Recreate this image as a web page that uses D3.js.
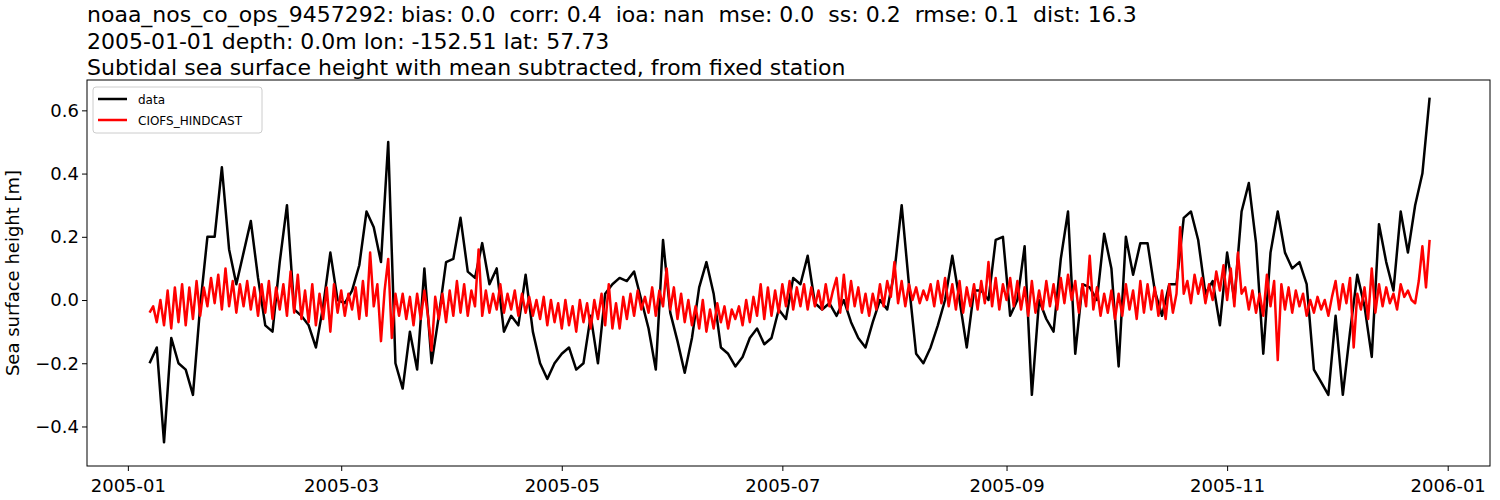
<!DOCTYPE html>
<html>
<head>
<meta charset="utf-8">
<script src="https://cdn.jsdelivr.net/npm/d3@7"></script>
<style>
  body { margin: 0; background: #fff; }
  text { font-family: "DejaVu Sans", sans-serif; white-space: pre; }
</style>
</head>
<body>
<svg id="chart" width="1500" height="500"></svg>
<script>
// station data, every 2 days starting 2005-01-07 (day 6)
const dataStartDay = 6;
const dataValues = [
  -0.20, -0.15, -0.45, -0.12, -0.20, -0.22, -0.30, -0.02, 0.20, 0.20,
  0.42, 0.16, 0.05, 0.15, 0.25, 0.07, -0.08, -0.10, 0.12, 0.30,
  -0.03, -0.05, -0.08, -0.15, -0.02, 0.15, 0.00, -0.01, 0.03, 0.11,
  0.28, 0.23, 0.12, 0.50, -0.20, -0.28, -0.10, -0.22, 0.10, -0.20,
  -0.05, 0.12, 0.13, 0.26, 0.09, 0.07, 0.18, 0.05, 0.10, -0.10,
  -0.05, -0.08, 0.08, -0.10, -0.20, -0.25, -0.20, -0.17, -0.15, -0.22,
  -0.20, -0.05, -0.20, 0.02, 0.05, 0.07, 0.06, 0.09, 0.00, -0.09,
  -0.22, 0.19, -0.04, -0.13, -0.23, -0.12, 0.04, 0.12, 0.02, -0.15,
  -0.17, -0.21, -0.18, -0.12, -0.09, -0.14, -0.12, -0.03, -0.06, 0.07,
  0.05, 0.14, -0.01, -0.03, -0.01, -0.05, 0.00, -0.07, -0.12, -0.15,
  -0.07, 0.00, -0.03, 0.09, 0.30, 0.05, -0.17, -0.20, -0.15, -0.08,
  0.00, 0.14, 0.00, -0.15, 0.03, 0.03, 0.00, 0.19, 0.20, -0.05,
  0.00, 0.17, -0.30, 0.00, -0.06, -0.10, 0.13, 0.28, -0.17, 0.05,
  0.04, 0.00, 0.21, 0.10, -0.21, 0.20, 0.08, 0.18, 0.18, 0.03,
  -0.05, 0.05, 0.05, 0.26, 0.28, 0.19, 0.02, 0.06, -0.08, 0.15,
  0.00, 0.28, 0.37, 0.18, -0.17, 0.15, 0.28, 0.15, 0.10, 0.12,
  0.05, -0.22, -0.26, -0.30, -0.05, -0.30, -0.10, 0.08, -0.02, -0.18,
  0.24, 0.12, 0.03, 0.28, 0.15, 0.30, 0.40, 0.64
];
// model data, daily starting day 6
const modelStartDay = 6;
const modelValues = [
  -0.04,-0.02,-0.07,0.00,-0.08,0.03,-0.09,0.04,-0.07,0.05,
  -0.08,0.04,-0.06,0.06,-0.05,0.04,-0.02,0.07,-0.01,0.08,
  -0.03,0.10,-0.02,0.06,-0.04,0.05,-0.02,0.06,-0.03,0.04,
  -0.05,0.05,-0.04,0.06,-0.06,0.04,-0.03,0.05,-0.05,0.09,
  -0.04,0.08,-0.06,0.03,-0.07,0.05,-0.08,0.02,-0.06,0.04,
  -0.10,0.05,-0.04,0.03,-0.05,0.02,-0.03,0.04,-0.06,0.06,
  -0.05,0.15,-0.02,0.05,-0.13,0.03,0.13,-0.12,0.02,-0.05,
  0.02,-0.06,0.01,-0.08,0.02,-0.06,0.03,-0.05,-0.16,0.01,
  -0.06,0.02,-0.07,0.03,-0.05,0.06,-0.04,0.05,-0.05,0.03,
  -0.02,0.16,-0.05,0.03,-0.04,0.02,-0.03,0.05,-0.04,0.02,
  -0.03,0.03,-0.05,0.02,-0.04,0.01,-0.05,0.00,-0.06,0.01,
  -0.08,0.00,-0.07,-0.01,-0.09,0.00,-0.08,-0.02,-0.10,0.00,
  -0.07,-0.01,-0.09,0.00,-0.06,0.02,-0.08,0.05,-0.09,-0.01,
  -0.09,0.01,-0.06,0.02,-0.05,0.03,-0.03,0.01,-0.04,0.04,
  -0.05,0.03,-0.02,0.10,-0.03,0.04,-0.06,0.02,-0.07,0.00,
  -0.08,-0.02,-0.09,0.00,-0.10,-0.03,-0.09,-0.01,-0.07,-0.02,
  -0.09,-0.03,-0.06,-0.02,-0.08,0.00,-0.07,0.01,-0.05,0.05,
  -0.06,0.04,-0.05,0.03,-0.04,0.05,-0.02,0.06,-0.03,0.04,
  -0.02,0.05,-0.03,0.04,-0.02,0.03,-0.03,0.05,-0.02,0.03,
  0.07,-0.04,0.08,-0.03,0.06,-0.02,0.04,-0.04,0.02,-0.05,
  0.02,-0.03,0.05,-0.02,0.06,0.01,0.12,-0.01,0.06,-0.02,
  0.05,0.00,0.04,-0.01,0.03,0.00,0.05,-0.02,0.06,-0.01,
  0.07,-0.02,0.05,-0.03,0.06,-0.04,0.04,-0.02,0.05,-0.03,
  0.06,-0.01,0.12,-0.02,0.07,-0.03,0.05,0.00,0.07,-0.02,
  0.06,-0.03,0.04,-0.05,0.06,-0.04,0.03,-0.03,0.06,-0.02,
  0.05,-0.03,0.07,-0.01,0.08,0.00,0.06,-0.04,0.05,-0.02,
  0.14,-0.03,0.04,-0.05,0.02,-0.04,0.03,-0.06,0.02,-0.05,
  0.05,-0.03,0.03,-0.06,0.06,-0.04,0.05,-0.03,0.04,-0.05,
  0.03,-0.06,0.05,-0.04,0.02,0.23,0.02,0.06,-0.01,0.08,
  0.02,0.07,-0.01,0.05,0.00,0.09,0.03,0.11,0.00,0.10,
  -0.02,0.15,0.02,0.04,-0.03,0.03,-0.04,0.02,-0.05,0.08,
  -0.02,0.06,-0.19,0.05,-0.03,0.04,-0.04,0.03,-0.02,0.02,
  -0.05,0.00,-0.04,0.01,-0.03,0.00,-0.05,0.01,0.06,-0.03,
  0.05,-0.01,0.07,-0.15,0.02,-0.03,0.04,-0.06,0.10,-0.04,
  0.05,-0.02,0.04,-0.01,0.02,-0.03,0.05,0.01,0.03,0.00,
  -0.01,0.06,0.17,0.04,0.19
];
const yTicks = [-0.4, -0.2, 0.0, 0.2, 0.4, 0.6];
const xTicks = ["2005-01-01","2005-03-01","2005-05-01","2005-07-01","2005-09-01","2005-11-01","2006-01-01"];
const titleLines = [
  "noaa_nos_co_ops_9457292: bias: 0.0  corr: 0.4  ioa: nan  mse: 0.0  ss: 0.2  rmse: 0.1  dist: 16.3",
  "2005-01-01 depth: 0.0m lon: -152.51 lat: 57.73",
  "Subtidal sea surface height with mean subtracted, from fixed station"
];
const seriesNames = ["data", "CIOFS_HINDCAST"];
const seriesColors = ["#000000", "#ff0000"];

const base = Date.UTC(2005, 0, 1);
const dayMs = 86400000;
const toDate = d => new Date(base + d * dayMs);
const dataPts = dataValues.map((v, i) => [toDate(dataStartDay + 2 * i), v]);
const modelPts = modelValues.map((v, i) => [toDate(modelStartDay + i), v]);

const svg = d3.select("#chart");
const m = { left: 87, right: 1490, top: 80, bottom: 466 };

const x = d3.scaleUtc().domain([toDate(-11.3), toDate(376.7)]).range([m.left, m.right]);
const y = d3.scaleLinear().domain([-0.525, 0.696]).range([m.bottom, m.top]);

// titles
svg.selectAll("text.title").data(titleLines).enter().append("text")
  .attr("class", "title")
  .attr("x", m.left).attr("y", (d, i) => 22 + i * 26.5)
  .attr("font-size", 22).text(d => d);

const fmtTick = v => (v < 0 ? "\u2212" : "") + Math.abs(v).toFixed(1);

const line = d3.line().x(d => x(d[0])).y(d => y(d[1]));
svg.append("path").datum(dataPts).attr("d", line)
  .attr("fill", "none").attr("stroke", seriesColors[0]).attr("stroke-width", 2.5)
  .attr("stroke-linejoin", "round");
svg.append("path").datum(modelPts).attr("d", line)
  .attr("fill", "none").attr("stroke", seriesColors[1]).attr("stroke-width", 2.5)
  .attr("stroke-linejoin", "round");

// axes
const xAxis = svg.append("g").attr("transform", `translate(0,${m.bottom})`)
  .call(d3.axisBottom(x).tickValues(xTicks.map(s => new Date(s + "T00:00:00Z")))
    .tickFormat(d3.utcFormat("%Y-%m")).tickSizeOuter(0).tickSize(5));
xAxis.selectAll("text").attr("font-size", 18).attr("dy", "1.0em");
const yAxis = svg.append("g").attr("transform", `translate(${m.left},0)`)
  .call(d3.axisLeft(y).tickValues(yTicks).tickFormat(fmtTick).tickSizeOuter(0).tickSize(5));
yAxis.selectAll("text").attr("font-size", 18);
svg.selectAll(".domain").remove();
svg.append("rect").attr("x", m.left).attr("y", m.top)
  .attr("width", m.right - m.left).attr("height", m.bottom - m.top)
  .attr("fill", "none").attr("stroke", "#000").attr("stroke-width", 1);

svg.append("text").attr("transform", `translate(19,${(m.top + m.bottom) / 2}) rotate(-90)`)
  .attr("text-anchor", "middle").attr("font-size", 18).text("Sea surface height [m]");

// legend
const lg = svg.append("g");
lg.append("rect").attr("x", 93).attr("y", 87).attr("width", 169).attr("height", 46).attr("rx", 3)
  .attr("fill", "#fff").attr("fill-opacity", 0.8).attr("stroke", "#ccc");
seriesNames.forEach((n, i) => {
  const yy = 99 + i * 21;
  lg.append("line").attr("x1", 98).attr("x2", 127).attr("y1", yy).attr("y2", yy)
    .attr("stroke", seriesColors[i]).attr("stroke-width", 2.5);
  lg.append("text").attr("x", 138).attr("y", yy + 4.5).attr("font-size", 12).text(n);
});
</script>
</body>
</html>
